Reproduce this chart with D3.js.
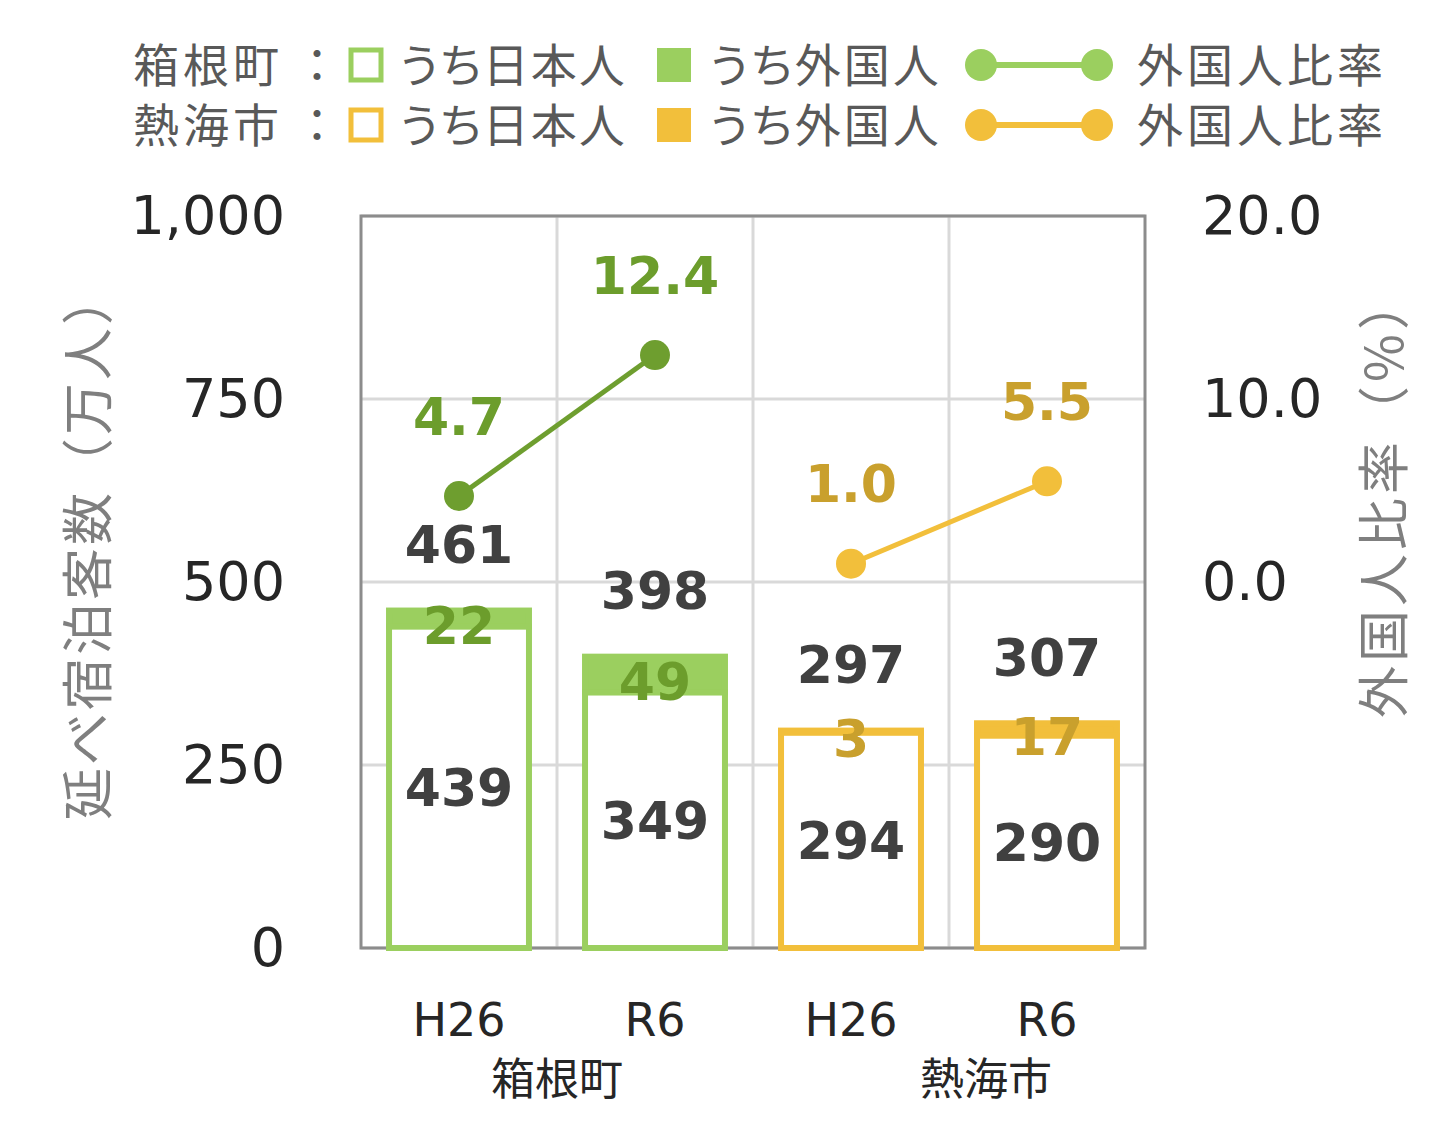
<!DOCTYPE html>
<html>
<head>
<meta charset="utf-8">
<script src="https://cdn.jsdelivr.net/npm/d3@7"></script>
<style>
  html, body { margin: 0; padding: 0; background: #fff; }
  svg { display: block; }
</style>
</head>
<body>
<div id="chart"></div>
<script>
// chart data
var periods = ["H26", "R6", "H26", "R6"];
var towns = ["箱根町", "箱根町", "熱海市", "熱海市"];
var townNames = ["箱根町", "熱海市"];
var japanese = [439, 349, 294, 290];
var foreign = [22, 49, 3, 17];
var totals = [461, 398, 297, 307];
var foreignRatio = [4.7, 12.4, 1.0, 5.5];
var leftTicks = [0, 250, 500, 750, 1000];
var rightTicks = [0, 10, 20];

var W = 1452, H = 1124;
var plot = { left: 361, right: 1145, top: 216, bottom: 948 };

// per town colours: bar, label, line
var townColor = {
	"箱根町": { bar: "#9BCF5F", label: "#6C9D2C", line: "#6E9E2F", legendLine: "#9BCF5F" },
	"熱海市": { bar: "#F2BF3B", label: "#C9A02D", line: "#F2BF3B", legendLine: "#F2BF3B" }
};

var numFont = "'DejaVu Sans', Verdana, sans-serif";
var jpFont = "'Noto Sans CJK JP', 'Noto Sans', sans-serif";

var svg = d3.select('#chart').append('svg')
	.attr('width', W)
	.attr('height', H);

var keys = periods.map(function(p, i) { return i; });

var x = d3.scaleBand()
	.domain(keys)
	.range([plot.left, plot.right])
	.paddingInner(0.286)
	.paddingOuter(0.143);

var y = d3.scaleLinear().domain([0, 1000]).range([plot.bottom, plot.top]);
var y2 = d3.scaleLinear().domain([-20, 20]).range([plot.bottom, plot.top]);

var cx = function(i) { return x(i) + x.bandwidth() / 2; };

// gridlines
var grid = svg.append('g');
grid.selectAll('line.h').data(leftTicks).enter().append('line')
	.attr('x1', plot.left).attr('x2', plot.right)
	.attr('y1', function(d) { return y(d); })
	.attr('y2', function(d) { return y(d); })
	.attr('stroke', '#D9D9D9').attr('stroke-width', 3);
grid.selectAll('line.v').data(d3.range(1, keys.length)).enter().append('line')
	.attr('x1', function(d) { return plot.left + d * x.step(); })
	.attr('x2', function(d) { return plot.left + d * x.step(); })
	.attr('y1', plot.top).attr('y2', plot.bottom)
	.attr('stroke', '#D9D9D9').attr('stroke-width', 3);

// plot border
svg.append('rect')
	.attr('x', plot.left).attr('y', plot.top)
	.attr('width', plot.right - plot.left).attr('height', plot.bottom - plot.top)
	.attr('fill', 'none').attr('stroke', '#8C8C8C').attr('stroke-width', 3);

// bars
var bars = svg.append('g');
keys.forEach(function(i) {
	var c = townColor[towns[i]];
	// foreign part (filled)
	bars.append('rect')
		.attr('x', x(i)).attr('width', x.bandwidth())
		.attr('y', y(totals[i]))
		.attr('height', y(japanese[i]) - y(totals[i]))
		.attr('fill', c.bar).attr('stroke', c.bar).attr('stroke-width', 6);
	// japanese part (outline)
	bars.append('rect')
		.attr('x', x(i)).attr('width', x.bandwidth())
		.attr('y', y(japanese[i]))
		.attr('height', y(0) - y(japanese[i]))
		.attr('fill', '#fff').attr('stroke', c.bar).attr('stroke-width', 6);
});

// bar labels
var labels = svg.append('g')
	.attr('font-family', numFont)
	.attr('font-weight', 'bold')
	.attr('font-size', 52)
	.attr('text-anchor', 'middle');

keys.forEach(function(i) {
	var c = townColor[towns[i]];
	labels.append('text')
		.attr('x', cx(i)).attr('y', (y(japanese[i]) + y(0)) / 2)
		.attr('dy', '0.36em')
		.attr('fill', '#404040')
		.text(japanese[i]);
	labels.append('text')
		.attr('x', cx(i)).attr('y', (y(totals[i]) + y(japanese[i])) / 2 + 7)
		.attr('dy', '0.36em')
		.attr('fill', c.label)
		.text(foreign[i]);
	labels.append('text')
		.attr('x', cx(i)).attr('y', y(totals[i]) - 66)
		.attr('dy', '0.36em')
		.attr('fill', '#404040')
		.text(totals[i]);
});

// ratio lines
var line = d3.line()
	.x(function(i) { return cx(i); })
	.y(function(i) { return y2(foreignRatio[i]); });

townNames.forEach(function(t) {
	var idx = keys.filter(function(i) { return towns[i] === t; });
	var c = townColor[t];
	svg.append('path')
		.attr('d', line(idx))
		.attr('fill', 'none')
		.attr('stroke', c.line)
		.attr('stroke-width', 5);
	svg.selectAll(null).data(idx).enter().append('circle')
		.attr('cx', function(i) { return cx(i); })
		.attr('cy', function(i) { return y2(foreignRatio[i]); })
		.attr('r', 15)
		.attr('fill', c.line);
	svg.selectAll(null).data(idx).enter().append('text')
		.attr('x', function(i) { return cx(i); })
		.attr('y', function(i) { return y2(foreignRatio[i]) - 80; })
		.attr('dy', '0.36em')
		.attr('text-anchor', 'middle')
		.attr('font-family', numFont)
		.attr('font-weight', 'bold')
		.attr('font-size', 52)
		.attr('fill', c.label)
		.text(function(i) { return d3.format('.1f')(foreignRatio[i]); });
});

// left axis
var leftAxis = svg.append('g')
	.attr('transform', 'translate(' + plot.left + ',0)')
	.call(d3.axisLeft(y).tickValues(leftTicks).tickSize(0).tickPadding(76).tickFormat(d3.format(',')));
leftAxis.select('.domain').remove();
leftAxis.selectAll('text')
	.attr('font-family', numFont).attr('font-size', 54).attr('fill', '#262626');

// right axis
var rightAxis = svg.append('g')
	.attr('transform', 'translate(' + plot.right + ',0)')
	.call(d3.axisRight(y2).tickValues(rightTicks).tickSize(0).tickPadding(57).tickFormat(d3.format('.1f')));
rightAxis.select('.domain').remove();
rightAxis.selectAll('text')
	.attr('font-family', numFont).attr('font-size', 54).attr('fill', '#262626');

// x axis labels
svg.append('g').selectAll('text').data(keys).enter().append('text')
	.attr('x', function(i) { return cx(i); })
	.attr('y', 1019)
	.attr('dy', '0.36em')
	.attr('text-anchor', 'middle')
	.attr('font-family', numFont)
	.attr('font-size', 46)
	.attr('fill', '#262626')
	.text(function(i) { return periods[i]; });

// town group labels (excel pushes the second one a little right)
var groupNudge = [0, 37];
svg.append('g').selectAll('text').data(townNames).enter().append('text')
	.attr('x', function(t, k) {
		var idx = keys.filter(function(i) { return towns[i] === t; });
		return d3.mean(idx, cx) + groupNudge[k];
	})
	.attr('y', 1079)
	.attr('dy', '0.36em')
	.attr('text-anchor', 'middle')
	.attr('font-family', jpFont)
	.attr('font-size', 44)
	.attr('fill', '#262626')
	.text(function(t) { return t; });

// axis titles
svg.append('text')
	.attr('transform', 'translate(88,' + 545 + ') rotate(-90)')
	.attr('dy', '0.36em')
	.attr('text-anchor', 'middle')
	.attr('font-family', jpFont)
	.attr('font-size', 52)
	.attr('letter-spacing', 3)
	.attr('fill', '#7F7F7F')
	.text('延べ宿泊客数（万人）');

svg.append('text')
	.attr('transform', 'translate(1384,' + 496 + ') rotate(-90)')
	.attr('dy', '0.36em')
	.attr('text-anchor', 'middle')
	.attr('font-family', jpFont)
	.attr('font-size', 52)
	.attr('letter-spacing', 4)
	.attr('fill', '#7F7F7F')
	.text('外国人比率（%）');

// legend
var legend = svg.append('g')
	.attr('font-family', jpFont)
	.attr('font-size', 46)
	.attr('letter-spacing', 4)
	.style('font-feature-settings', "'palt'")
	.attr('fill', '#595959');
var legendRows = [65, 125];
townNames.forEach(function(t, k) {
	var c = townColor[t];
	var ly = legendRows[k];
	var row = legend.append('g').attr('transform', 'translate(0,' + ly + ')');
	row.append('text').attr('x', 133).attr('dy', '0.36em').text(t);
	row.append('text').attr('x', 317).attr('dy', '0.36em')
		.attr('text-anchor', 'middle').attr('letter-spacing', 0).text('：');
	row.append('rect')
		.attr('x', 351).attr('y', -15).attr('width', 30).attr('height', 30)
		.attr('fill', '#fff').attr('stroke', c.bar).attr('stroke-width', 5);
	row.append('text').attr('x', 400).attr('dy', '0.36em').attr('letter-spacing', 2).text('うち日本人');
	row.append('rect')
		.attr('x', 657).attr('y', -17).attr('width', 34).attr('height', 34)
		.attr('fill', c.bar);
	row.append('text').attr('x', 710).attr('dy', '0.36em').attr('letter-spacing', 3).text('うち外国人');
	row.append('line')
		.attr('x1', 981).attr('x2', 1097)
		.attr('stroke', c.legendLine).attr('stroke-width', 6);
	row.selectAll('circle').data([981, 1097]).enter().append('circle')
		.attr('cx', function(d) { return d; }).attr('r', 16)
		.attr('fill', c.legendLine);
	row.append('text').attr('x', 1137).attr('dy', '0.36em').text('外国人比率');
});
</script>
</body>
</html>
